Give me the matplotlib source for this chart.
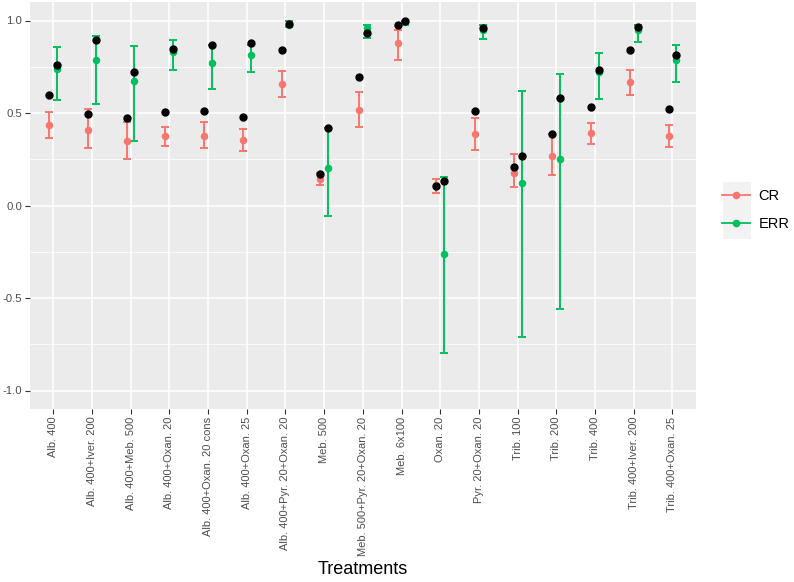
import numpy as np
import matplotlib
matplotlib.use("Agg")
import matplotlib.pyplot as plt
from matplotlib.lines import Line2D
from matplotlib.patches import Rectangle

plt.rcParams['font.family'] = ['Liberation Sans', 'DejaVu Sans']

treatments = ["Alb. 400", "Alb. 400+Iver. 200", "Alb. 400+Meb. 500", "Alb. 400+Oxan. 20",
              "Alb. 400+Oxan. 20 cons", "Alb. 400+Oxan. 25", "Alb. 400+Pyr. 20+Oxan. 20",
              "Meb. 500", "Meb. 500+Pyr. 20+Oxan. 20", "Meb. 6x100", "Oxan. 20",
              "Pyr. 20+Oxan. 20", "Trib. 100", "Trib. 200", "Trib. 400",
              "Trib. 400+Iver. 200", "Trib. 400+Oxan. 25"]

# CR: estimate, interval, observed
cr_mean = [0.434, 0.409, 0.348, 0.373, 0.378, 0.353, 0.656, 0.141, 0.515, 0.876, 0.110,
           0.384, 0.178, 0.270, 0.391, 0.667, 0.375]
cr_low = [0.364, 0.310, 0.249, 0.321, 0.310, 0.295, 0.586, 0.112, 0.423, 0.787, 0.065,
          0.299, 0.099, 0.166, 0.335, 0.600, 0.314]
cr_high = [0.508, 0.519, 0.452, 0.425, 0.449, 0.411, 0.726, 0.175, 0.611, 0.948, 0.142,
           0.472, 0.276, 0.387, 0.445, 0.732, 0.436]
cr_obs = [0.595, 0.495, 0.474, 0.505, 0.512, 0.477, 0.838, 0.168, 0.692, 0.977, 0.105,
          0.512, 0.209, 0.384, 0.535, 0.841, 0.519]

# ERR
err_mean = [0.739, 0.784, 0.672, 0.829, 0.768, 0.813, 0.978, 0.204, 0.960, 0.991, -0.261,
            0.946, 0.124, 0.252, 0.724, 0.950, 0.784]
err_low = [0.568, 0.550, 0.350, 0.733, 0.631, 0.721, 0.964, -0.056, 0.906, 0.978, -0.797,
           0.901, -0.710, -0.560, 0.575, 0.886, 0.668]
err_high = [0.856, 0.915, 0.861, 0.895, 0.870, 0.865, 0.995, 0.418, 0.978, 1.000, 0.153,
            0.973, 0.618, 0.712, 0.825, 0.973, 0.867]
err_obs = [0.757, 0.894, 0.723, 0.847, 0.868, 0.876, 0.982, 0.418, 0.930, 0.995, 0.132,
           0.960, 0.267, 0.580, 0.735, 0.964, 0.816]

col_cr = '#F8766D'
col_err = '#00BF5F'
dodge = 0.1

fig = plt.figure(figsize=(7.94, 5.82), dpi=100)
ax = fig.add_axes([30/794, 1-409/582, (695.7-30)/794, (409-2)/582])
ax.set_facecolor('#EBEBEB')

x = np.arange(len(treatments))
series = [(x - dodge, cr_mean, cr_low, cr_high, cr_obs, col_cr),
          (x + dodge, err_mean, err_low, err_high, err_obs, col_err)]
for xs, m, lo, hi, obs, c in series:
    m = np.array(m)
    yerr = [m - np.array(lo), np.array(hi) - m]
    ax.errorbar(xs, m, yerr=yerr, fmt='none', ecolor=c, elinewidth=1.4,
                capsize=2.8, capthick=1.4, zorder=3)
    ax.plot(xs, m, 'o', color=c, ms=4.4, mec=c, zorder=4)
for xs, m, lo, hi, obs, c in series:
    ax.plot(xs, obs, 'o', color='black', ms=5.0, zorder=5)

ax.set_xlim(-0.6, len(treatments) - 0.4)
ax.set_ylim(-1.1, 1.1)
ax.set_xticks(x)
ax.set_xticklabels(treatments, rotation=90, fontsize=8, color='#4D4D4D')
ax.set_yticks([-1.0, -0.5, 0.0, 0.5, 1.0])
ax.set_yticklabels(['-1.0', '-0.5', '0.0', '0.5', '1.0'], fontsize=8.2, color='#4D4D4D')
ax.set_yticks([-0.75, -0.25, 0.25, 0.75], minor=True)
ax.tick_params(axis='both', which='major', length=3.5, width=0.8, color='#333333', pad=2)
ax.tick_params(axis='y', which='minor', length=0)
ax.grid(True, which='major', color='white', linewidth=1.1, zorder=0)
ax.grid(True, which='minor', axis='y', color='white', linewidth=0.55, zorder=0)
ax.set_axisbelow(True)
for s in ax.spines.values():
    s.set_visible(False)
ax.set_xlabel('Treatments', fontsize=13, labelpad=4)

# legend
fig.patches.append(Rectangle((723/794, 1-239/582), 28/794, 57/582,
                             transform=fig.transFigure, facecolor='#F2F2F2',
                             edgecolor='none', zorder=0))
handles = [Line2D([], [], color=col_cr, marker='o', ms=4.5, lw=1.3),
           Line2D([], [], color=col_err, marker='o', ms=4.5, lw=1.3)]
fig.legend(handles, ['CR', 'ERR'], loc='center left',
           bbox_to_anchor=(722/794, 1-210/582), frameon=False, fontsize=10.5,
           handlelength=1.9, handletextpad=0.6, labelspacing=0.95, borderpad=0,
           borderaxespad=0)

fig.savefig('out.png', dpi=100)
